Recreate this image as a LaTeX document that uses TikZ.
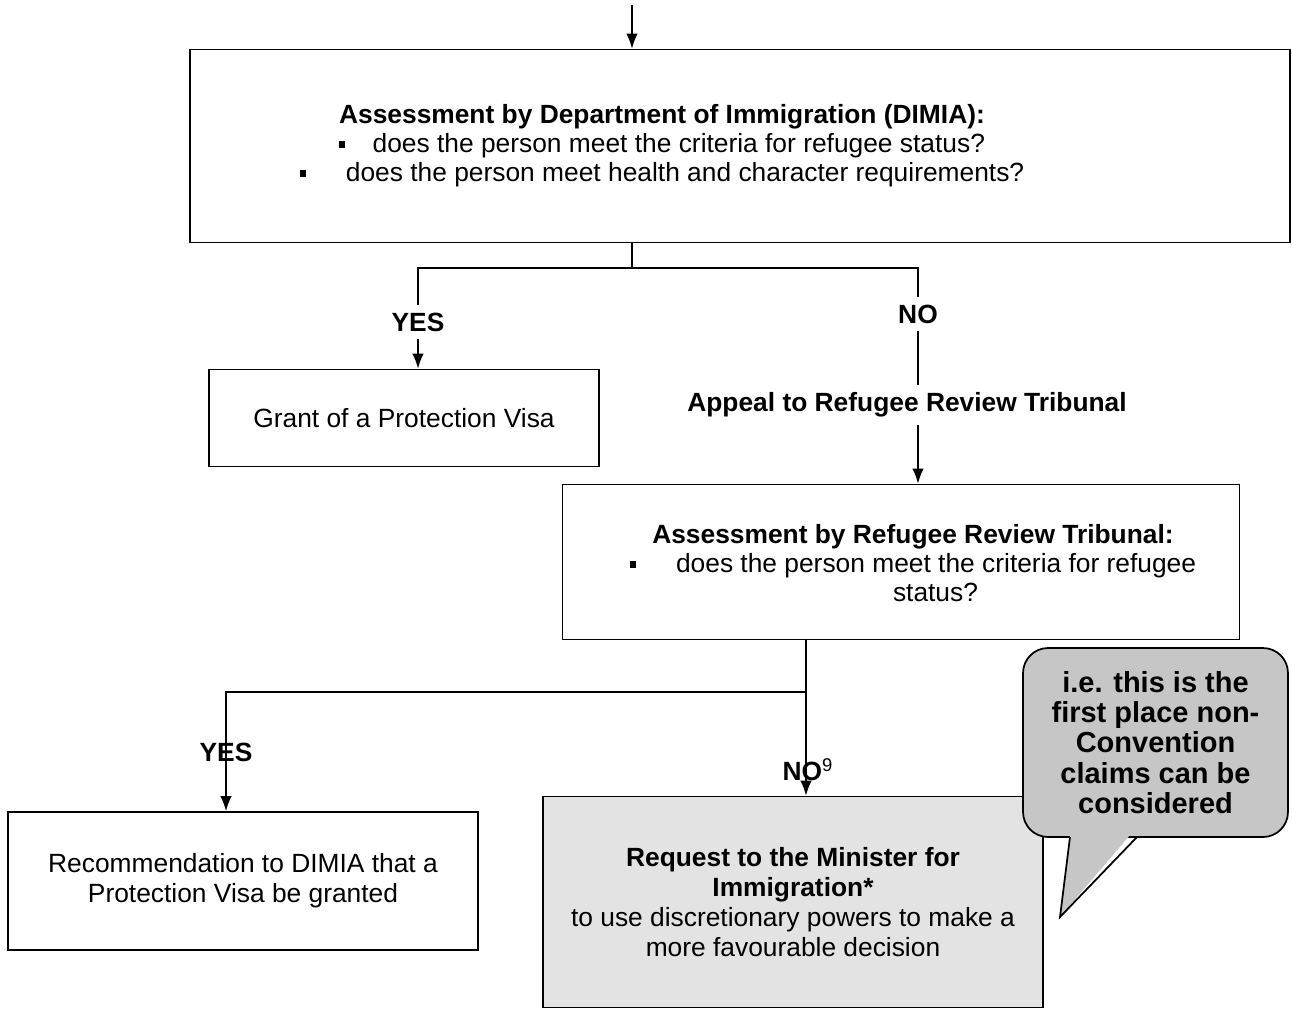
\documentclass[tikz,border=0pt]{standalone}
\usepackage{fontspec}
\setmainfont{Liberation Sans}
\usetikzlibrary{positioning,arrows.meta}

\newcommand{\sqbul}{\rule[2.5pt]{3.5pt}{4pt}}

\begin{document}
\begin{tikzpicture}[x=0.02cm,y=-0.02cm]

    \tikzstyle{box}=[draw, rectangle, line width=1pt];
    \tikzstyle{txt}=[align=center, font=\fontsize{15}{16.5}\selectfont];
    \tikzstyle{wide}=[align=center, font=\fontsize{15}{17}\selectfont];
    \tikzstyle{answer}=[font=\bfseries\fontsize{15}{18}\selectfont, inner sep=4pt];

    \useasboundingbox (0,0) rectangle (1292,1012);

    \begin{scope}[>={Latex[length=3mm,width=2.3mm]}, line width=0.9pt]
      \node (dimia) at (740,146) [box, minimum width=22cm, minimum height=3.86cm]{};
      \node (dimiatext) at (662,146) [txt]{\textbf{Assessment by Department of Immigration (DIMIA):}\\
        \sqbul\hspace{0.55cm}does the person meet the criteria for refugee status?\\
        \sqbul\hspace{0.8cm}does the person meet health and character requirements?};

      \coordinate (start) at (632,5);
      \coordinate (split1) at (632,268);
      \node (yes1) at (418,322) [answer]{YES};
      \node (no1) at (918,314) [answer]{NO};
      \node (appeal) at (907,405) [answer]{Appeal to Refugee Review Tribunal};

      \node (grant) at (404,418) [box, minimum width=7.8cm, minimum height=1.94cm, txt]{Grant of a Protection Visa};

      \node (rrt) at (901,562) [box, minimum width=13.54cm, minimum height=3.1cm]{};
      \node (rrttext) at (913,563) [txt]{\textbf{Assessment by Refugee Review Tribunal:}\\
        \sqbul\hspace{0.8cm}does the person meet the criteria for refugee\\
        \hspace*{0.9cm}status?};

      \coordinate (split2) at (806,692);
      \node (yes2) at (226,752) [answer]{YES};
      \node (no2) at (808,770) [answer]{NO\textsuperscript{\mdseries 9}};

      \node (recommend) at (243,881) [box, minimum width=9.4cm, minimum height=2.76cm, wide]{Recommendation to DIMIA that a\\Protection Visa be granted};
      \node (minister) at (793,902) [box, fill=gray!22, minimum width=10cm, minimum height=4.22cm, wide]{\textbf{Request to the Minister for}\\\textbf{Immigration*}\\to use discretionary powers to make a\\more favourable decision};

      \draw[->] (start) -- (start |- dimia.north);
      \draw (split1 |- dimia.south) -- (split1);
      \draw (yes1.north) |- (split1) -| (no1.north);
      \draw[->] (yes1) -- (yes1 |- grant.north);
      \draw (no1) -- (no1 |- appeal.north);
      \draw[->] (appeal.south -| no1) -- (no1 |- rrt.north);

      \draw (split2 |- rrt.south) -- (split2);
      \draw[->] (split2) -- (split2 |- minister.north);
      \draw[->] (split2) -| (yes2 |- recommend.north);

      \node (note) at (1155.5,742.5) [box, fill=gray!45, rounded corners=0.5cm, minimum width=5.3cm, minimum height=3.78cm]{};
      \coordinate (tip) at (1060,917);
      \path[fill=gray!45] (1071,828) -- (tip) -- (1136,828) -- cycle;
      \draw[line width=1pt] (1070,837) -- (tip) -- (1137,837);
      \node (notetext) at (note.center) [align=center, font=\bfseries\fontsize{16.5}{17.3}\selectfont]{i.e. this is the\\first place non-\\Convention\\claims can be\\considered};
    \end{scope}
\end{tikzpicture}
\end{document}
